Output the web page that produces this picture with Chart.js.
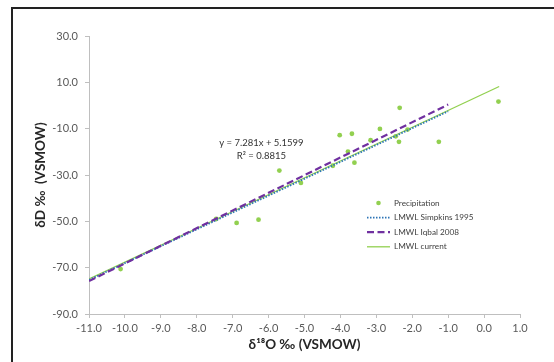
<!DOCTYPE html>
<html>
<head>
<meta charset="utf-8">
<script src="https://cdn.jsdelivr.net/npm/chart.js@4.4.1/dist/chart.umd.min.js"></script>
<style>
  body { margin: 0; background: #fff; }
  #wrap { position: relative; width: 554px; height: 362px; overflow: hidden; }
  #frame { position: absolute; left: 11px; top: 7px; width: 600px; height: 400px; border: 2px solid #222; }
  canvas { position: absolute; left: 0; top: 0; }
</style>
</head>
<body>
<div id="wrap">
  <div id="frame"></div>
  <canvas id="chart" width="554" height="362"></canvas>
</div>
<script>
// Precipitation samples (d18O, dD)
const precipX = [0.40, -2.35, -4.02, -3.68, -2.90, -3.16, -2.37, -1.26, -3.79, -3.61, -4.21, -2.46, -2.13, -5.70, -5.10, -7.46, -6.89, -6.28, -10.12];
const precipY = [1.7, -1.0, -12.8, -12.2, -10.1, -15.0, -15.7, -15.7, -19.9, -24.7, -26.0, -13.3, -10.4, -28.1, -33.4, -49.0, -50.7, -49.3, -70.6];

// meteoric water lines (end points)
const simpkinsX = [-11, -1];
const simpkinsY = [-75.3, -2.5];
const iqbalX = [-11, -1];
const iqbalY = [-75.8, 0.4];
const currentX = [-11, 0.42];
const currentY = [-74.9, 8.2];

const xTicks = [-11, -10, -9, -8, -7, -6, -5, -4, -3, -2, -1, 0, 1];
const yTicks = [-90, -70, -50, -30, -10, 10, 30];

const toPts = (xs, ys) => xs.map((x, i) => ({ x: x, y: ys[i] }));

const green = '#92D050';
const tickFont = { family: 'Lato', size: 11 };
const titleFont = { family: 'Lato', size: 13.5, weight: 'bold' };

// regression label + legend drawn by hand, like the excel original
const extras = {
    id: 'extras',
    afterDraw(chart) {
        const ctx = chart.ctx;
        const xs = chart.scales.x, ys = chart.scales.y;
        ctx.save();
        ctx.fillStyle = '#333';
        ctx.font = '9.5px Lato';
        ctx.textAlign = 'center';
        ctx.textBaseline = 'middle';
        const cx = xs.getPixelForValue(-6.2);
        ctx.fillText('y = 7.281x + 5.1599', cx, ys.getPixelForValue(-16.0));
        ctx.fillText('R² = 0.8815', cx, ys.getPixelForValue(-21.6));

        // legend
        const items = chart.data.datasets;
        const x0 = 367, x1 = 390, y0 = 203, step = 14.6;
        ctx.textAlign = 'left';
        ctx.font = '8.2px Lato';
        items.forEach((ds, i) => {
            const y = y0 + i * step;
            if (ds.showLine) {
                ctx.beginPath();
                ctx.strokeStyle = ds.borderColor;
                ctx.lineWidth = ds.borderWidth;
                ctx.setLineDash(ds.borderDash || []);
                ctx.moveTo(x0, y);
                ctx.lineTo(x1, y);
                ctx.stroke();
                ctx.setLineDash([]);
            } else {
                ctx.beginPath();
                ctx.fillStyle = ds.backgroundColor;
                ctx.arc((x0 + x1) / 2, y, 2.3, 0, Math.PI * 2);
                ctx.fill();
            }
            ctx.fillStyle = '#404040';
            ctx.fillText(ds.label, x1 + 4, y);
        });
        ctx.restore();
    }
};

new Chart(document.getElementById('chart'), {
    type: 'scatter',
    data: {
        datasets: [
            {
                label: 'Precipitation',
                data: toPts(precipX, precipY),
                backgroundColor: green,
                borderColor: green,
                pointRadius: 2.4,
                borderWidth: 0,
                order: 4
            },
            {
                label: 'LMWL Simpkins 1995',
                data: toPts(simpkinsX, simpkinsY),
                showLine: true,
                borderColor: '#2E75B6',
                borderWidth: 1.8,
                borderDash: [1.5, 1.5],
                pointRadius: 0,
                order: 2
            },
            {
                label: 'LMWL Iqbal 2008',
                data: toPts(iqbalX, iqbalY),
                showLine: true,
                borderColor: '#7030A0',
                borderWidth: 2.2,
                borderDash: [7, 3.5],
                pointRadius: 0,
                order: 1
            },
            {
                label: 'LMWL current',
                data: toPts(currentX, currentY),
                showLine: true,
                borderColor: green,
                borderWidth: 1.3,
                pointRadius: 0,
                order: 3
            }
        ]
    },
    options: {
        responsive: false,
        animation: false,
        layout: { padding: { left: 0, top: 36, right: 34, bottom: 0 } },
        plugins: {
            legend: { display: false },
            tooltip: { enabled: false }
        },
        scales: {
            x: {
                type: 'linear',
                min: -11,
                max: 1,
                afterBuildTicks: s => { s.ticks = xTicks.map(v => ({ value: v })); },
                afterFit: s => { s.height = 48; },
                ticks: {
                    autoSkip: false,
                    maxRotation: 0,
                    padding: 4,
                    color: '#595959',
                    font: tickFont,
                    callback: v => v.toFixed(1)
                },
                grid: { drawOnChartArea: false, drawTicks: true, tickLength: 4, color: '#bfbfbf' },
                border: { color: '#bfbfbf' },
                title: {
                    display: true,
                    text: 'δ¹⁸O ‰ (VSMOW)',
                    color: '#262626',
                    font: titleFont,
                    padding: { top: 0, bottom: 9 }
                }
            },
            y: {
                type: 'linear',
                min: -90,
                max: 30,
                afterBuildTicks: s => { s.ticks = yTicks.map(v => ({ value: v })); },
                afterFit: s => { s.width = 89; },
                ticks: {
                    padding: 7,
                    color: '#595959',
                    font: tickFont,
                    callback: v => v.toFixed(1)
                },
                grid: { drawOnChartArea: false, drawTicks: true, tickLength: 4, color: '#bfbfbf' },
                border: { color: '#bfbfbf' },
                title: {
                    display: true,
                    text: 'δD ‰  (VSMOW)',
                    color: '#262626',
                    font: titleFont,
                    padding: { top: 33, bottom: 0 }
                }
            }
        }
    },
    plugins: [extras]
});
</script>
</body>
</html>
